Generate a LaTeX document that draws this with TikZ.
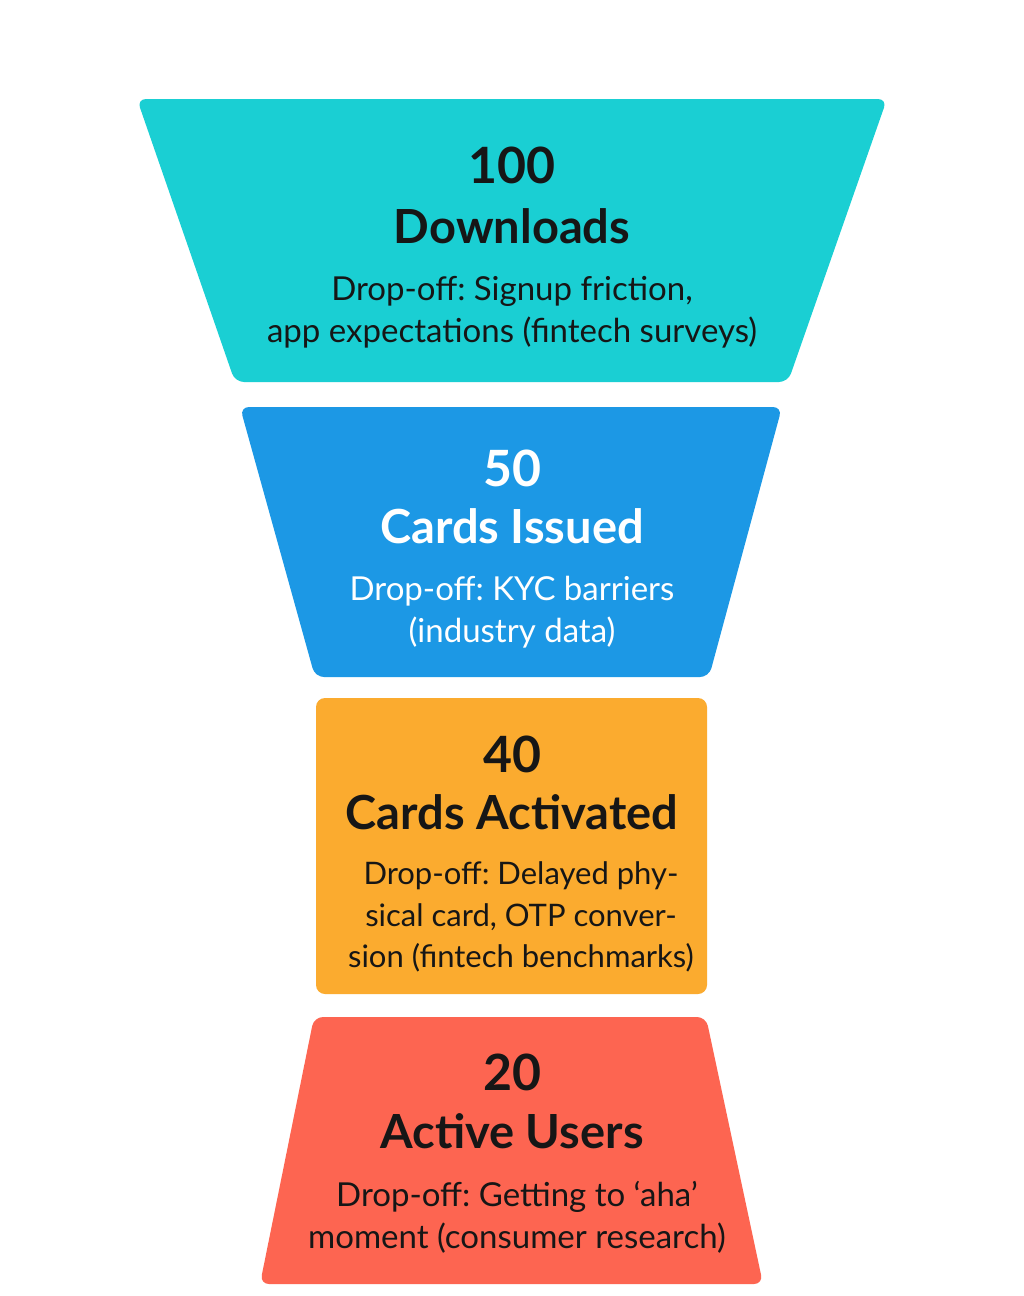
\documentclass[tikz,border=0pt]{standalone}
\usepackage{fontspec}
\setmainfont{Lato}
\frenchspacing
\usetikzlibrary{positioning}
\definecolor{dlfill}{HTML}{1ACFD3}
\definecolor{cifill}{HTML}{1C98E5}
\definecolor{cafill}{HTML}{FBAB2F}
\definecolor{aufill}{HTML}{FD6551}
\definecolor{ink}{HTML}{161616}
\tikzset{
    stage/.style={rounded corners=9pt}, % funnel blocks
    count/.style={inner sep=0pt, font=\fontsize{50}{56}\selectfont\bfseries}, % the big numbers
    title/.style={inner sep=0pt, font=\fontsize{47}{54}\selectfont\bfseries}, % stage names
    note/.style={inner sep=0pt, align=center, font=\fontsize{33}{42}\selectfont}, % drop-off reasons
    }

\begin{document}
\begin{tikzpicture}[x=1pt, y=-1pt]
        \useasboundingbox (0,0) rectangle (1024,1296);
        \fill[white] (0,0) rectangle (1024,1296);

        % funnel blocks
        \fill[dlfill, stage] (137,99) -- (887,99) -- (788,382) -- (235,382) -- cycle;
        \fill[cifill, stage] (240,407) -- (782,407) -- (709,677) -- (315,677) -- cycle;
        \fill[cafill, stage] (316,698) -- (707,698) -- (707,994) -- (316,994) -- cycle;
        \fill[aufill, stage] (314,1017) -- (706,1017) -- (763,1284) -- (260,1284) -- cycle;

        % 100 downloads
        \node[count, text=ink] (dl) at (512,165) {100};
        \node[title, text=ink] (dlname) at (512,226) {Downloads};
        \node[note, text=ink] (dlnote) at (512,312) {Drop-off: Signup friction,\\app expectations (fintech surveys)};

        % 50 cards issued
        \node[count, text=white] (ci) at (512,468) {50};
        \node[title, text=white] (ciname) at (512,526) {Cards Issued};
        \node[note, text=white] (cinote) at (512,612) {Drop-off: KYC barriers\\(industry data)};

        % 40 cards activated
        \node[count, text=ink] (ca) at (512,754) {40};
        \node[title, text=ink] (caname) at (512,812) {Cards Activated};
        \node[note, text=ink, font=\fontsize{31}{41.5}\selectfont] (canote) at (521,917) {Drop-off: Delayed phy-\\sical card, OTP conver-\\sion (fintech benchmarks)};

        % 20 active users
        \node[count, text=ink] (au) at (512,1072) {20};
        \node[title, text=ink] (auname) at (512,1131) {Active Users};
        \node[note, text=ink] (aunote) at (517,1217) {Drop-off: Getting to ‘aha’\\moment (consumer research)};
    \end{tikzpicture}
\end{document}
